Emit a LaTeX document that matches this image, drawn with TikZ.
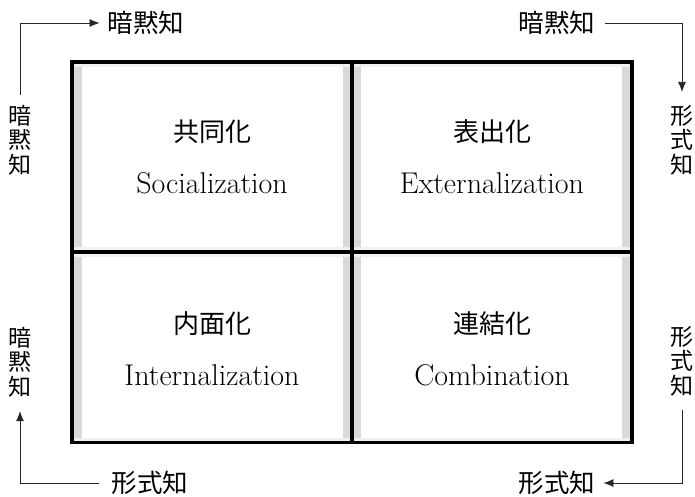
\documentclass[tikz,border=0pt]{standalone}
\usepackage{fontspec}
\newfontfamily\cjk{Noto Sans CJK JP}
\usetikzlibrary{arrows.meta}
\begin{document}
\begin{tikzpicture}[x=1pt,y=-1pt,
 quad/.style={draw=black, line width=3.6pt, minimum width=280pt, minimum height=190pt, inner sep=0pt, outer sep=0pt},
 jlabel/.style={font=\cjk\fontsize{26}{26}\selectfont, inner sep=0pt},
 elabel/.style={font=\fontsize{30}{30}\selectfont, inner sep=0pt},
 olabel/.style={font=\cjk\fontsize{25.5}{25.5}\selectfont, inner sep=0pt},
 side/.style={font=\cjk\fontsize{23}{24.5}\selectfont, inner sep=0pt, align=center},
 conn/.style={line width=0.8pt, draw=black!85, -{Latex[length=10pt,width=8pt]}},
 band/.style={fill=gray!30, draw=none},
 hband/.style={fill=gray!12, draw=none}]
\useasboundingbox (0,0) rectangle (695,496);
% shading bands
\fill[band] (73,63) rectangle (82,442);
\fill[band] (343,63) rectangle (361,442);
\fill[band] (622,63) rectangle (631,442);
\fill[hband] (73,63) rectangle (631,67);
\fill[hband] (73,247) rectangle (631,257);
\fill[hband] (73,438) rectangle (631,442);
% boxes
\node[quad] (soc) at (212,157) {};
\node[quad] (ext) at (492,157) {};
\node[quad] (int) at (212,347.5) {};
\node[quad] (com) at (492,347.5) {};
% box texts
\node[jlabel] (socj) at (212,132) {共同化};
\node[elabel] (soce) at (212,183) {Socialization};
\node[jlabel] (extj) at (492,132) {表出化};
\node[elabel] (exte) at (492,183) {Externalization};
\node[jlabel] (intj) at (212,324) {内面化};
\node[elabel] (inte) at (212,375) {Internalization};
\node[jlabel] (comj) at (492,324) {連結化};
\node[elabel] (come) at (492,375) {Combination};
% outer labels
\node[olabel] (tl) at (146,23) {暗黙知};
\node[olabel] (tr) at (557,23) {暗黙知};
\node[olabel] (bl) at (150,483) {形式知};
\node[olabel] (br) at (557,483) {形式知};
\node[side] (lt) at (20,140) {暗\\黙\\知};
\node[side] (lb) at (20,362) {暗\\黙\\知};
\node[side] (rt) at (682,140) {形\\式\\知};
\node[side] (rb) at (682,361) {形\\式\\知};
% connectors
\draw[conn, shorten <=10pt, shorten >=8pt] (lt.north) |- (tl.west);
\draw[conn, shorten <=10pt, shorten >=13pt] (tr.east) -| (rt.north);
\draw[conn, shorten <=14pt, shorten >=8pt] (rb.south) |- (br.east);
\draw[conn, shorten <=13pt, shorten >=14pt] (bl.west) -| (lb.south);
\end{tikzpicture}
\end{document}
